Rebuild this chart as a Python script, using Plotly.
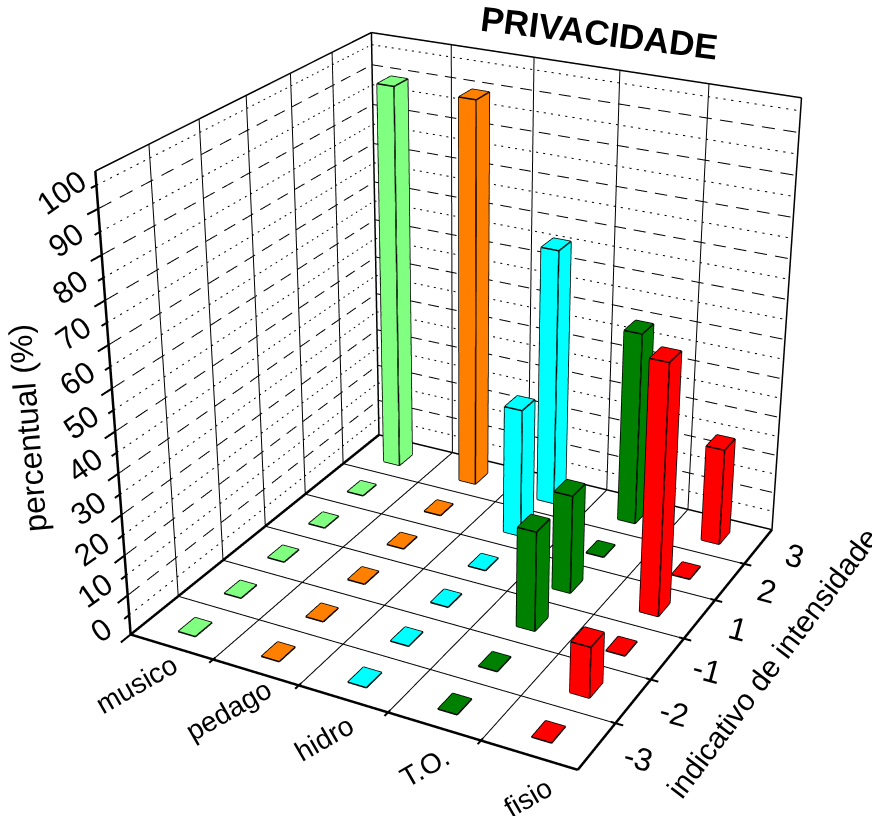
import math
import plotly.graph_objects as go

categories = ["musico", "pedago", "hidro", "T.O.", "fisio"]
intensity = ["-3", "-2", "-1", "1", "2", "3"]
colors = ["#80FF80", "#FF8000", "#00FFFF", "#008000", "#FF0000"]
musico = [0, 0, 0, 0, 0, 100]
pedago = [0, 0, 0, 0, 0, 100]
hidro = [0, 0, 0, 0, 33.3, 66.7]
to = [0, 0, 25, 25, 0, 50]
fisio = [0, 12.5, 0, 62.5, 0, 25]
series = [musico, pedago, hidro, to, fisio]
z_ticks = list(range(0, 101, 10))
Z_MAX = 108
BW, BD = 0.21, 0.36

fig = go.Figure()

def seg(pts):
    xs, ys, zs = [], [], []
    for a, b in pts:
        xs += [a[0], b[0], None]; ys += [a[1], b[1], None]; zs += [a[2], b[2], None]
    return xs, ys, zs

def lines(pts, width=2, color="#000000"):
    x, y, z = seg(pts)
    fig.add_trace(go.Scatter3d(x=x, y=y, z=z, mode="lines", hoverinfo="skip", showlegend=False,
                               connectgaps=False, line=dict(color=color, width=width)))

def dashed(a, b, on, off):
    """Break the line a-b into on/off pieces, lengths given as fractions of a data unit."""
    L = math.dist(a, b)
    out, s = [], 0.0
    while s < L:
        e = min(s + on, L)
        out.append((tuple(a[k] + (b[k] - a[k]) * s / L for k in range(3)),
                    tuple(a[k] + (b[k] - a[k]) * e / L for k in range(3))))
        s = e + off
    return out

nx, ny = len(categories), len(intensity)
# floor and wall grid
lines([((i, 0, 0), (i, ny, 0)) for i in range(1, nx)] + [((0, j, 0), (nx, j, 0)) for j in range(1, ny)], 2)
lines([((i, ny, 0), (i, ny, Z_MAX)) for i in range(1, nx)] + [((0, j, 0), (0, j, Z_MAX)) for j in range(1, ny)], 2)
major = z_ticks[1:]
minor = [v + 5 for v in z_ticks]
dash_pts, dot_pts = [], []
for v in major:
    dash_pts += dashed((0, 0, v), (0, ny, v), 0.24, 0.16) + dashed((0, ny, v), (nx, ny, v), 0.14, 0.09)
for v in minor:
    dot_pts += dashed((0, 0, v), (0, ny, v), 0.035, 0.09) + dashed((0, ny, v), (nx, ny, v), 0.025, 0.06)
lines(dash_pts, 2)
lines(dot_pts, 2)
# frame
lines([((0, 0, 0), (nx, 0, 0)), ((nx, 0, 0), (nx, ny, 0)), ((0, 0, 0), (0, ny, 0)), ((0, 0, 0), (0, 0, Z_MAX))], 5)
lines([((0, ny, 0), (nx, ny, 0)), ((0, 0, Z_MAX), (0, ny, Z_MAX)), ((0, ny, Z_MAX), (nx, ny, Z_MAX)),
       ((nx, ny, 0), (nx, ny, Z_MAX)), ((0, ny, 0), (0, ny, Z_MAX))], 3)
# ticks
lines([((0, -0.2, v), (0, 0, v)) for v in z_ticks] + [((0, -0.1, v), (0, 0, v)) for v in minor], 4)
lines([((i, -0.08, 0), (i, 0.05, 0)) for i in range(1, nx)] + [((nx - 0.05, j, 0), (nx + 0.08, j, 0)) for j in range(1, ny)], 4)

# bars
for i, (vals, col) in enumerate(zip(series, colors)):
    X, Y, Z, I, J, K = [], [], [], [], [], []
    edges = []
    for j, v in enumerate(vals):
        x0, x1 = i + 0.5 - BW / 2, i + 0.5 + BW / 2
        y0, y1 = j + 0.5 - BD / 2, j + 0.5 + BD / 2
        n = len(X)
        for zz in (0, v):
            X += [x0, x1, x1, x0]; Y += [y0, y0, y1, y1]; Z += [zz] * 4
        quads = [(4, 5, 6, 7), (0, 1, 5, 4), (1, 2, 6, 5), (2, 3, 7, 6), (3, 0, 4, 7)]
        for a, b, c, d in quads:
            I += [n + a, n + a]; J += [n + b, n + c]; K += [n + c, n + d]
        t = [(x0, y0, v), (x1, y0, v), (x1, y1, v), (x0, y1, v)]
        edges += [(t[k], t[(k + 1) % 4]) for k in range(4)]
        if v > 0:
            edges += [((x0, y0, 0), (x1, y0, 0)), ((x1, y0, 0), (x1, y1, 0)),
                      ((x0, y0, 0), t[0]), ((x1, y0, 0), t[1]), ((x1, y1, 0), t[2])]
    fig.add_trace(go.Mesh3d(x=X, y=Y, z=Z, i=I, j=J, k=K, color=col, flatshading=True, hoverinfo="skip",
                            lighting=dict(ambient=1, diffuse=0, specular=0, fresnel=0, roughness=1)))
    lines(edges, 3)

ann = []
def label(x, y, z, text, size, angle, bold=False):
    ann.append(dict(x=x, y=y, z=z, text=("<b>%s</b>" % text if bold else text), showarrow=False, textangle=angle,
                    font=dict(family="Liberation Sans", size=size, color="#000000")))
for v in z_ticks:
    if v == 0:
        label(0, -0.55, v + 6.5, str(v), 31, -35)
    else:
        label(0, -0.6, v + 7, str(v), 31, -35)
for i, c in enumerate(categories):
    label(i * 1.05 + 0.58, -0.85 + 0.04 * i, 0, c, 28, -30)
for j, t in enumerate(intensity):
    label(nx + 0.42, j + 0.5, 0, t, 32, 15)
label(0, -1.5, 63, "percentual (%)", 32, -94.5)
label(nx + 0.95, ny / 2, 0, "indicativo de intensidade", 30, -53)
label(2.75, ny, 116, "PRIVACIDADE", 35, 7, True)

# The box is seen through a longer lens than plotly's fixed 45 degree one, so the scene is drawn larger
# than the window and centred on the box.
SIZE = 1798
SHIFT_X, SHIFT_Y = -434, -532
axis = dict(visible=False, showgrid=False, zeroline=False, showspikes=False)
fig.update_layout(
    width=SIZE, height=SIZE, margin=dict(l=0, r=0, t=0, b=0), paper_bgcolor="white", showlegend=False,
    scene=dict(
        domain=dict(x=[0, 1], y=[0, 1]), bgcolor="white",
        xaxis=dict(axis, range=[-3, 8]), yaxis=dict(axis, range=[-3, 9]), zaxis=dict(axis, range=[-22, 130]),
        aspectmode="manual", aspectratio=dict(x=2.19, y=2.02, z=1.395),
        camera=dict(eye=dict(x=1.841, y=-3.507, z=1.847), center=dict(x=0, y=0, z=0), up=dict(x=0, y=0, z=1)),
        annotations=ann,
    ),
)
post = ("var d=document.getElementById('{plot_id}');d.style.position='absolute';d.style.left='%dpx';"
        "d.style.top='%dpx';document.body.style.overflow='hidden';document.documentElement.style.overflow='hidden';"
        % (SHIFT_X, SHIFT_Y))
fig.write_html("out.html", post_script=post)
